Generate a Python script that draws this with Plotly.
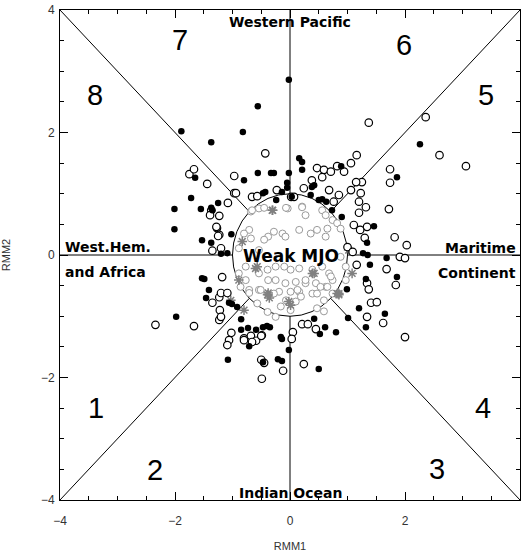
import plotly.graph_objects as go
import numpy as np

# ---- data (RMM1, RMM2) ----
strong_filled_x = [-1.89, -0.82, -1.37, -0.56, -0.02, -1.65, -0.80, -0.56, -0.33, -0.28, 0.16, 0.21, 0.21,
                   -0.02, -0.05, -1.72, -2.01, -1.55, -1.37, -1.35, -1.25, -2.01, -1.53, -1.37, -1.02,
                   -1.20, -1.09, -0.47, -0.43, -0.24, -0.05, -0.14, 0.36, 0.42, 0.38, 0.50, 0.56, 0.63,
                   0.89, 0.73, 0.90, 2.26, 1.86, 1.46, 1.34, 1.27, 1.35, 1.68, 1.39, 1.86, 1.32, 1.20,
                   1.32, 1.65, 0.99, 1.01, 0.61, 0.52, 0.80, 0.42, -0.14, -0.16, -0.02, -0.35, -0.47,
                   -0.40, -0.21, -0.14, 0.50, -0.47, -0.85, -0.85, -0.71, -0.59, -0.73, -1.08, -1.53,
                   -1.49, -1.41, -1.46, -1.98, -1.06, -1.01, -0.92, 0.03]
strong_filled_y = [2.02, 2.01, 1.84, 2.43, 2.86, 1.26, 1.22, 1.34, 1.34, 1.34, 1.58, 1.52, 1.39,
                   1.34, 1.18, 0.93, 0.75, 0.75, 0.77, 0.73, 0.85, 0.42, 0.24, 0.20, 0.34,
                   0.02, 0.03, 1.01, 1.03, 0.90, 1.10, 1.03, 0.98, 1.14, 1.11, 0.90, 0.91, 0.87,
                   1.45, 0.73, 0.62, 1.81, 1.27, 0.47, 0.20, 0.03, 0.00, -0.05, -0.16, -0.36, -0.39, -0.87,
                   -1.18, -0.96, -0.56, -1.03, -1.18, -1.29, -1.26, -1.04, -1.37, -1.34, -1.55, -1.18, -1.18,
                   -1.16, -1.70, -1.73, -1.86, -1.75, -1.05, -1.22, -1.49, -1.22, -1.19, -1.71, -0.38,
                   -0.39, -0.57, -0.70, -1.01, -0.78, -0.80, -0.85, 0.95]

strong_open_x = [-1.75, -1.67, -1.44, -0.97, -0.97, -0.94, -1.08, -1.37, -1.23, -1.27, -1.23, -1.20,
                 -1.39, -1.35, -0.66, -0.57, -0.43, -0.23, 0.02, 0.07, 0.24, 0.47, 0.59, 0.71, 0.56,
                 0.82, 0.94, 1.06, 0.38, 0.68, 0.85, 0.76, 1.06, 1.37, 2.36, 2.60, 3.06, 1.16,
                 1.74, 1.74, 1.25, 1.15, 1.23, 1.20, 1.32, 1.20, 1.72, 1.34, 1.11, 1.22, 1.30,
                 1.82, 2.03, 1.00, 1.09, 1.91, 2.00, 1.16, 1.68, 1.84, 1.34, 1.37, 1.41, 1.51,
                 1.34, 1.62, 2.00, 0.21, 0.31, 0.45, 0.05, 0.03, -0.49, -0.12, 0.24, -0.49,
                 -0.80, -0.68, -0.59, -0.50, -0.50, -0.45, -1.23, -1.35, -1.22, -1.23, -1.20,
                 -2.34, -1.67, -1.18, -1.02, -1.06, -1.09, -0.80, -0.66, -1.20, -1.09, -1.28, -1.25]
strong_open_y = [1.32, 1.40, 1.16, 1.29, 1.01, 1.01, 0.85, 0.73, 0.64, 0.44, 0.33, 0.11,
                 0.65, 0.07, 0.95, 0.96, 1.66, 1.06, 0.95, 0.95, 1.09, 1.42, 1.39, 1.36, 1.27,
                 1.45, 1.36, 1.50, 1.22, 1.06, 0.98, 0.87, 1.06, 2.16, 2.25, 1.63, 1.45, 1.63,
                 1.40, 1.18, 1.19, 1.19, 1.01, 0.87, 0.78, 0.69, 0.75, 0.46, 0.49, 0.41, 0.28,
                 0.29, 0.16, 0.13, 0.05, -0.03, -0.05, -0.16, -0.23, -0.49, -0.46, -0.56, -0.78, -0.77,
                 -1.01, -1.11, -1.34, -1.13, -1.13, -1.21, -1.26, -1.37, -1.31, -1.89, -1.78, -2.02,
                 -1.36, -1.32, -1.40, -1.32, -1.71, -1.76, -0.69, -0.78, -0.90, -1.06, -1.01,
                 -1.14, -1.16, -0.36, -1.27, -1.39, -1.47, -1.39, -1.42, -0.62, -0.62, 0.46, 0.31]

weak_circle_x = [-0.68, -0.54, -0.04, 0.21, 0.27, 0.56, 0.62, 0.74, 0.82, 0.88, 0.65, 0.62, 0.47, 0.36,
                 0.16, -0.13, -0.08, -0.28, -0.38, -0.45, -0.71, -0.80, -0.89, -0.68, -0.54, -0.77,
                 -0.89, -0.77, -0.86, -0.54, -0.39, -0.25, -0.10, 0.01, 0.16, 0.39, 0.56, 0.68, 0.74,
                 0.62, 0.45, 0.27, 0.10, -0.08, -0.25, -0.38, -0.54, -0.71, -0.19, 0.01, 0.16, 0.39,
                 0.74, 0.97, 0.97, 0.88, -0.16, 0.01, 0.10, 0.19, -0.25, -0.39, -0.57, 0.47, 0.59,
                 -0.28, -0.07, -0.51, -0.71, 0.53, 0.65, 0.47, 0.59, 0.71, 0.27, 0.13, -0.45, -0.66,
                 -0.07, 0.21]
weak_circle_y = [0.71, 0.76, 0.76, 0.79, 0.65, 0.73, 0.65, 0.57, 0.52, 0.43, 0.43, 0.30, 0.41, 0.35,
                 0.41, 0.35, 0.30, 0.38, 0.30, 0.25, 0.41, 0.35, 0.11, 0.27, 0.08, -0.19,
                 -0.30, -0.41, -0.52, -0.30, -0.24, -0.19, -0.19, -0.24, -0.22, -0.24, -0.19, -0.30, -0.41,
                 -0.52, -0.46, -0.46, -0.44, -0.46, -0.41, -0.41, -0.57, -0.57, -0.60, -0.60, -0.60, -0.63,
                 -0.63, -0.41, -0.19, -0.03, -0.84, -0.90, -0.76, -0.68, -1.01, -0.93, -0.79, -0.87, -0.92,
                 -0.63, -0.74, -0.57, -0.62, -0.52, -0.52, -0.63, -0.74, -0.35, -0.41, -0.57, 0.77, 0.73,
                 0.77, 0.78]

weak_star_x = [-0.30, -0.83, -0.57, -0.89, 0.42, -0.38, 0.85, 1.02, 1.08, -0.60, 0.39, -0.39, -0.36,
               -0.02, 0.01, 0.82, -0.80, -1.03, 0.85, -0.31]
weak_star_y = [0.73, 0.22, -0.19, -0.41, -0.30, -0.62, -0.63, 0.08, -0.30, -0.22, -0.30, -0.65, -0.70,
               -0.76, -0.82, -0.63, -0.90, -0.74, -0.65, 0.73]

phase_labels = ["1", "2", "3", "4", "5", "6", "7", "8"]
phase_x = [-3.37, -2.34, 2.55, 3.35, 3.40, 1.98, -1.91, -3.40]
phase_y = [-2.50, -3.51, -3.50, -2.50, 2.61, 3.43, 3.51, 2.61]

ticks = [-4, -2, 0, 2, 4]

fig = go.Figure()

fig.add_trace(go.Scatter(x=weak_circle_x, y=weak_circle_y, mode="markers",
                         marker=dict(symbol="circle", size=7, color="white",
                                     line=dict(color="#9a9a9a", width=1)), hoverinfo="skip"))
fig.add_trace(go.Scatter(x=weak_star_x, y=weak_star_y, mode="markers",
                         marker=dict(symbol="asterisk-open", size=8, color="#808080",
                                     line=dict(color="#808080", width=1.5)), hoverinfo="skip"))
fig.add_trace(go.Scatter(x=strong_open_x, y=strong_open_y, mode="markers",
                         marker=dict(symbol="circle", size=7.5, color="white",
                                     line=dict(color="black", width=1.2)), hoverinfo="skip"))
fig.add_trace(go.Scatter(x=strong_filled_x, y=strong_filled_y, mode="markers",
                         marker=dict(symbol="circle", size=6.5, color="black",
                                     line=dict(color="black", width=0)), hoverinfo="skip"))

# phase-space dividing lines and weak-MJO circle
R, L = 1.0, 4.0
shapes = [dict(type="circle", xref="x", yref="y", x0=-R, x1=R, y0=-R, y1=R,
               line=dict(color="black", width=1), layer="below")]
d = R / np.sqrt(2)
segs = [((0, R), (0, L)), ((0, -R), (0, -L)), ((R, 0), (L, 0)), ((-R, 0), (-L, 0)),
        ((d, d), (L, L)), ((-d, d), (-L, L)), ((d, -d), (L, -L)), ((-d, -d), (-L, -L))]
for (a, b) in segs:
    shapes.append(dict(type="line", xref="x", yref="y", x0=a[0], y0=a[1], x1=b[0], y1=b[1],
                       line=dict(color="black", width=1), layer="below"))

ann = []
for t, x, y in zip(phase_labels, phase_x, phase_y):
    ann.append(dict(x=x, y=y, text=t, showarrow=False, xref="x", yref="y",
                    font=dict(family="Liberation Sans", size=29, color="black")))

reg_font = dict(family="DejaVu Sans", size=14, color="black")
ann += [
    dict(x=0, y=3.80, text="<b>Western Pacific</b>", showarrow=False, font=reg_font),
    dict(x=0, y=-3.89, text="<b>Indian Ocean</b>", showarrow=False, font=reg_font),
    dict(x=-3.95, y=0.13, text="<b>West.Hem.</b>", showarrow=False, xanchor="left", font=reg_font),
    dict(x=-3.95, y=-0.27, text="<b>and Africa</b>", showarrow=False, xanchor="left", font=reg_font),
    dict(x=3.97, y=0.12, text="<b>Maritime</b>", showarrow=False, xanchor="right", font=reg_font),
    dict(x=3.97, y=-0.29, text="<b>Continent</b>", showarrow=False, xanchor="right", font=reg_font),
    dict(x=0.02, y=-0.02, text="<b>Weak MJO</b>", showarrow=False,
         font=dict(family="DejaVu Sans", size=17, color="black")),
]

axis_common = dict(range=[-4, 4], tickvals=ticks, showgrid=False, zeroline=False,
                   showline=True, linecolor="black", linewidth=1, mirror="ticks",
                   ticks="inside", ticklen=8, tickcolor="black",
                   minor=dict(dtick=0.5, ticks="inside", ticklen=4, tickcolor="black"),
                   tickfont=dict(family="Liberation Sans", size=12, color="#333"))

fig.update_layout(
    width=522, height=557,
    margin=dict(l=60, r=2, t=10, b=57),
    paper_bgcolor="white", plot_bgcolor="white",
    showlegend=False,
    shapes=shapes, annotations=ann,
    xaxis=dict(axis_common, ticklabelstandoff=10,
               title=dict(text="RMM1", standoff=14,
                          font=dict(family="Liberation Sans", size=11, color="#333"))),
    yaxis=dict(axis_common, ticklabelstandoff=2,
               title=dict(text="RMM2", standoff=28,
                          font=dict(family="Liberation Sans", size=11, color="#333"))),
)

fig.write_html("out.html", config={"displayModeBar": False},
               post_script="document.body.style.margin='0';document.body.style.overflow='hidden';")
